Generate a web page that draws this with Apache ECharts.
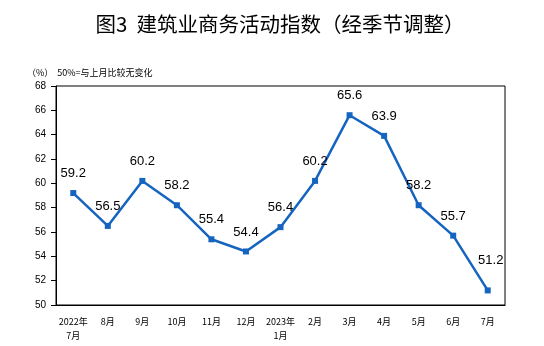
<!DOCTYPE html>
<html><head><meta charset="utf-8">
<script src="https://cdn.jsdelivr.net/npm/echarts@6/dist/echarts.min.js"></script>
<style>html,body{margin:0;padding:0;background:#fff}#c{width:544px;height:346px}</style>
</head><body><div id="c"></div>
<script>
const categories = ['2022年\n7月','8月','9月','10月','11月','12月','2023年\n1月','2月','3月','4月','5月','6月','7月'];
const values = [59.2,56.5,60.2,58.2,55.4,54.4,56.4,60.2,65.6,63.9,58.2,55.7,51.2];
const yTicks = [50,52,54,56,58,60,62,64,66,68];
const chart = echarts.init(document.getElementById('c'));
const seriesData = values.map((v,i)=> i===values.length-1 ? {value:v,label:{offset:[3,-10]}} : v);
chart.setOption({
  animation:false,
  title:[{text:'图3  建筑业商务活动指数（经季节调整）',left:275,textAlign:'center',top:9,
    textStyle:{fontSize:20.5,fontWeight:'normal',color:'#000',fontFamily:'Noto Sans CJK SC'}},
    {text:'（%）  50%=与上月比较无变化',left:22,top:63,textStyle:{fontSize:9,fontWeight:'normal',color:'#000',fontFamily:'Noto Sans CJK SC'}}],
  grid:{left:56,right:39,top:86,bottom:41,show:true,borderColor:'#000',borderWidth:1},
  xAxis:{type:'category',data:categories,boundaryGap:true,
    axisLine:{lineStyle:{color:'#000',width:1}},
    axisTick:{inside:true,length:5,lineStyle:{color:'#000'}},
    axisLabel:{color:'#000',fontSize:9,margin:10,lineHeight:14,interval:0,fontFamily:'Noto Sans CJK SC'}},
  yAxis:{type:'value',min:yTicks[0],max:yTicks[yTicks.length-1],interval:2,
    axisLine:{show:true,lineStyle:{color:'#000'}},
    axisTick:{show:true,length:5,lineStyle:{color:'#000'}},
    splitLine:{show:false},
    axisLabel:{color:'#000',fontSize:10,margin:10,fontFamily:'Liberation Sans'}},
  series:[{type:'line',data:seriesData,symbol:'rect',symbolSize:6,
    itemStyle:{color:'#1565c0'},lineStyle:{color:'#1565c0',width:2.5},
    label:{show:true,position:'top',distance:10,fontSize:13,color:'#000',fontFamily:'Liberation Sans',
      formatter:p=>p.value.toFixed(1)}}]
});
</script></body></html>
